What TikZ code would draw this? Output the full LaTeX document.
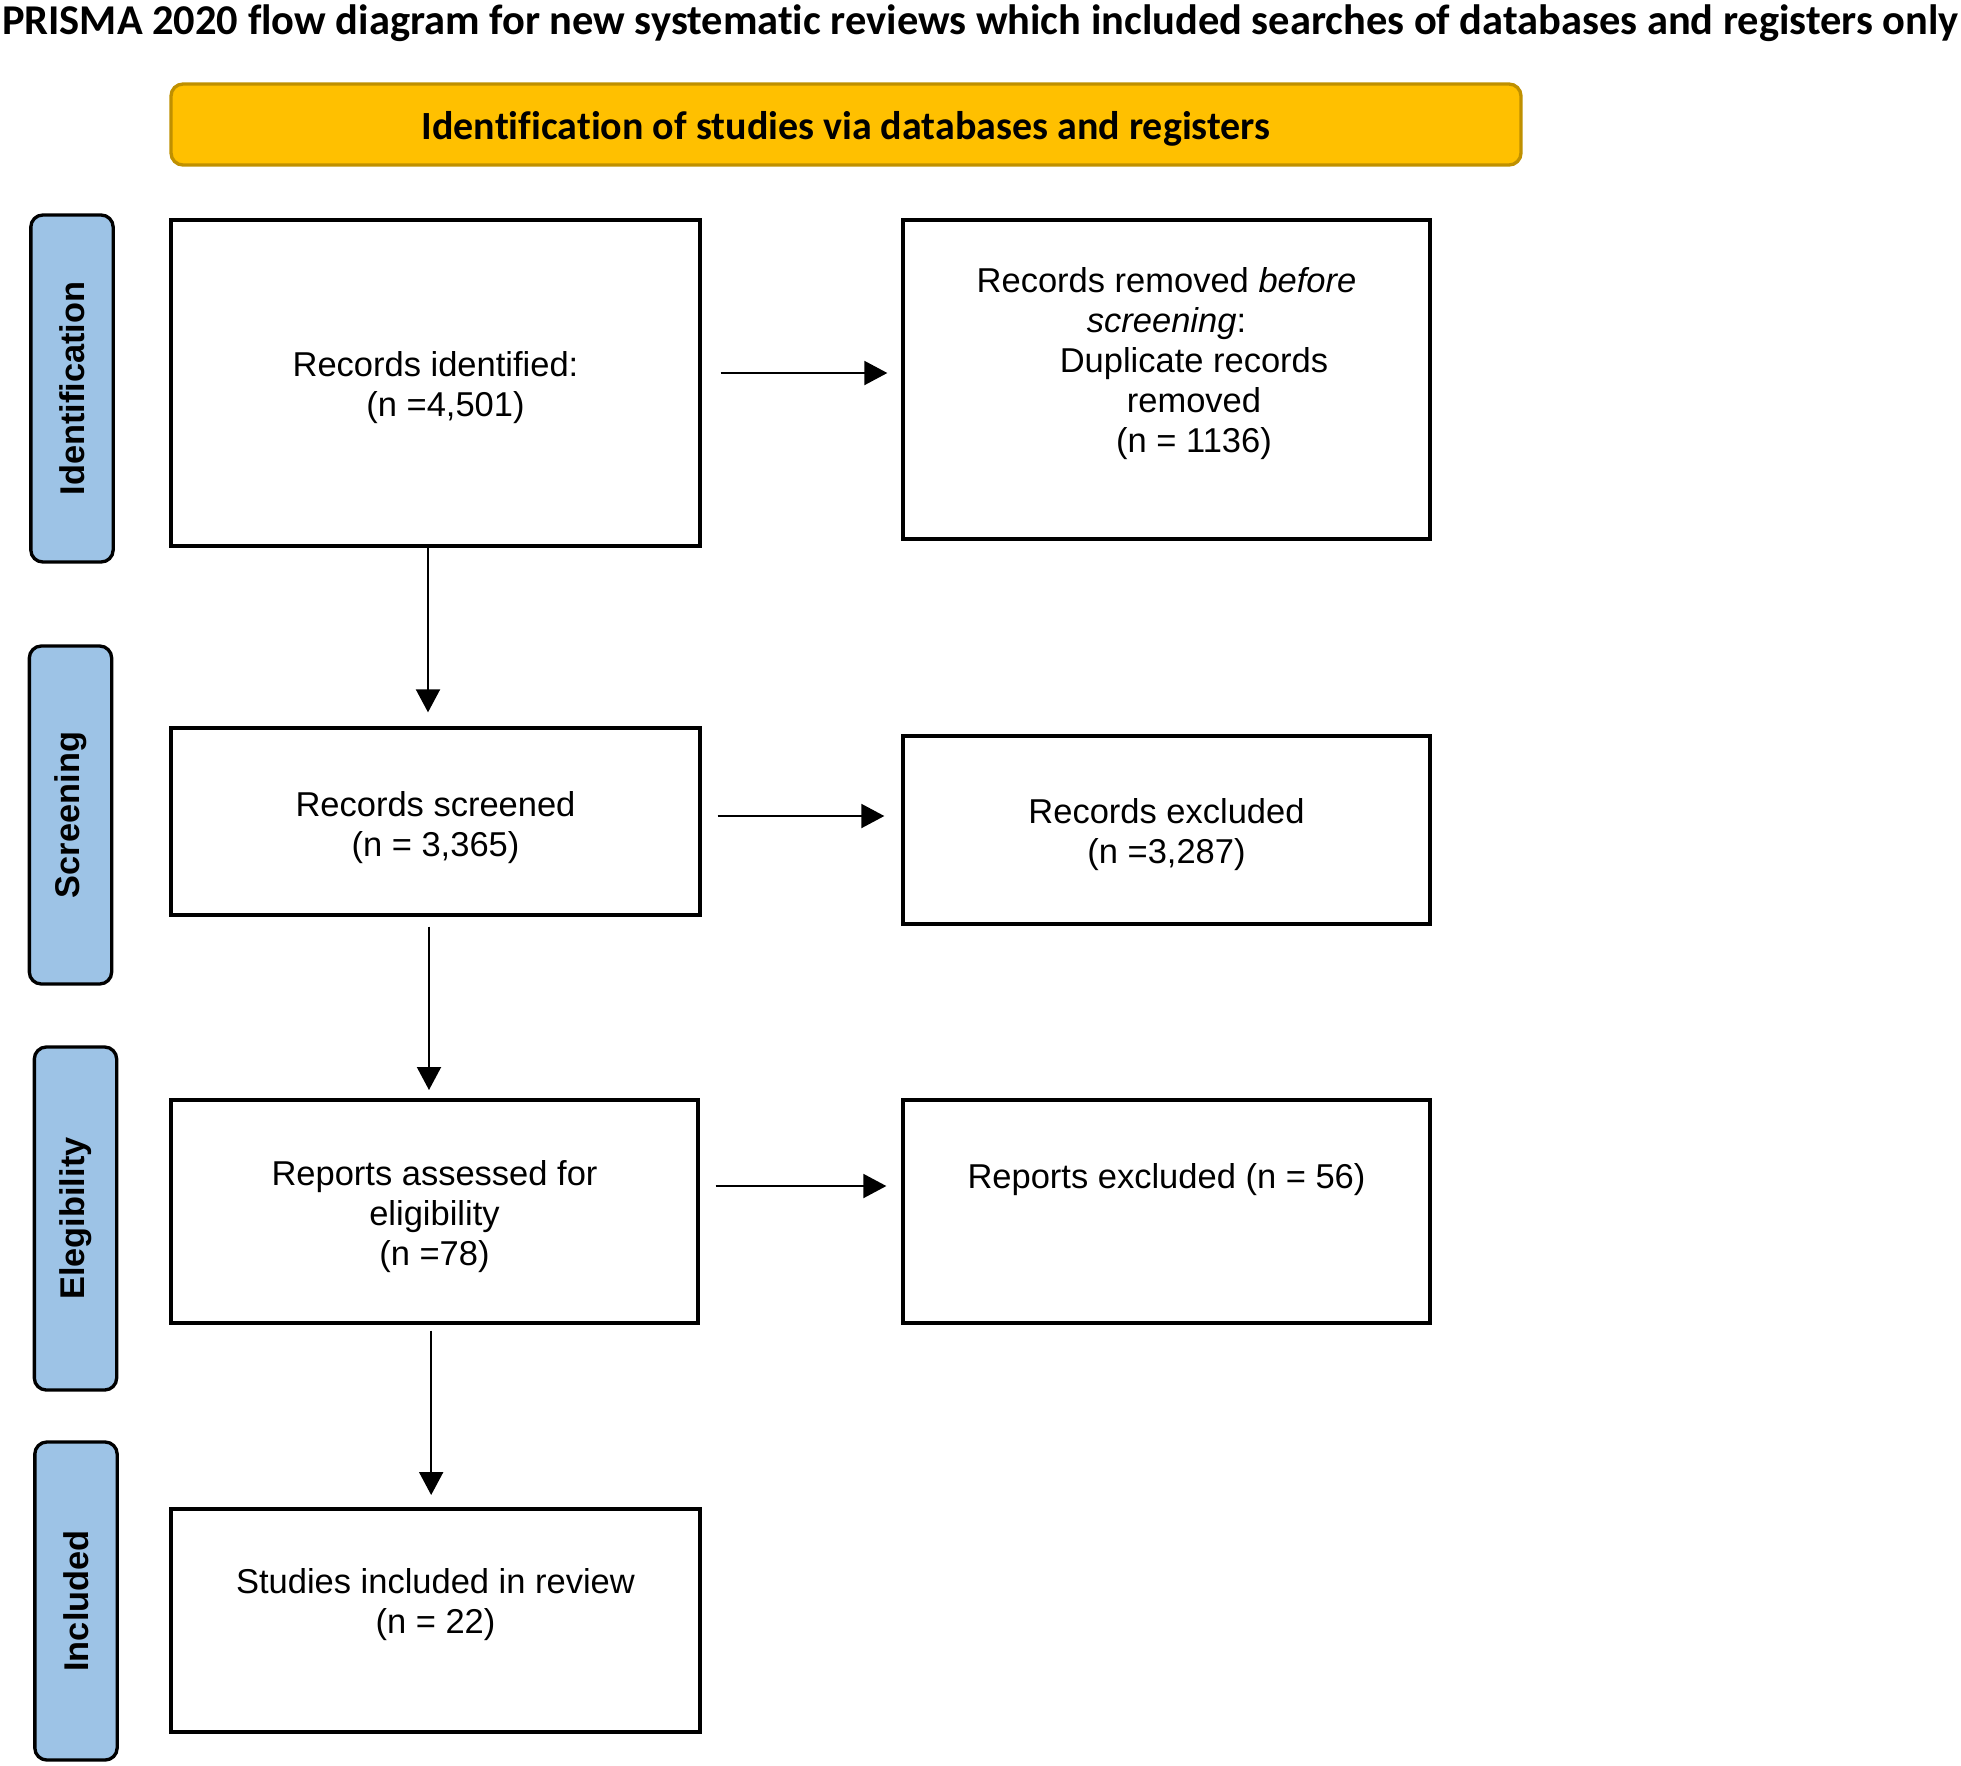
\documentclass[tikz,border=0pt]{standalone}
\usepackage{graphicx}
\usepackage{fontspec}
\setmainfont{Liberation Sans}
\newfontfamily\calibri[Ligatures=NoCommon]{Carlito}
\usetikzlibrary{arrows.meta}

\definecolor{headfill}{HTML}{FFC000}
\definecolor{headline}{HTML}{BF9000}
\definecolor{phasefill}{HTML}{9DC3E6}

\tikzset{
    box/.style={draw, line width=1pt, inner sep=0pt},
    txt/.style={align=center, inner sep=0pt, font=\fontsize{10.35}{12}\selectfont},
    phase/.style={draw, line width=1pt, fill=phasefill, rounded corners=3.6pt,
        rotate=90, inner sep=0pt, minimum height=24.7pt,
        font=\fontsize{10.3}{12}\selectfont\bfseries},
    arr/.style={-{Triangle[length=6.9pt,width=7.2pt]}, line width=0.6pt},
}

\begin{document}
\begin{tikzpicture}[x=0.3pt, y=-0.3pt]

        \useasboundingbox (0, 0) rectangle (1961, 1765);

        \node[anchor=base] (title) at (980.5, 34)
            {\resizebox{587pt}{!}{\calibri\bfseries PRISMA 2020 flow diagram for new systematic reviews which included searches of databases and registers only}};

        \node[draw=headline, line width=1pt, fill=headfill, rounded corners=3.6pt,
              minimum width=405pt, minimum height=24.3pt] (head) at (846, 124.5) {};
        \node[font=\fontsize{12}{14}\selectfont\calibri\bfseries, inner sep=0pt] (headt)
            at ([yshift=-1.2pt]head.center) {Identification of studies via databases and registers};

        % phases down the left side
        \foreach \name/\x/\y/\len/\lab in {ident/72/388.5/104.1/Identification, screen/70.5/815/101.4/Screening,
                                           elig/75.5/1218.5/102.9/Elegibility, incl/76/1601/95.4/Included} {
            \node[phase, minimum width=\len pt] (\name) at (\x, \y) {\lab};
        }

        % boxes
        \node[box, minimum width=158.7pt, minimum height=97.8pt] (A) at (435.5, 383) {};
        \node[txt] (At) at ([yshift=-1.5pt]A.center) {Records identified:\\\hspace*{6pt}(n =4,501)};

        \node[box, minimum width=158.1pt, minimum height=95.7pt] (B) at (1166.5, 379.5) {};
        \node[txt] (Bt) at ([yshift=4.75pt]B.center)
            {Records removed \textit{before}\\\textit{screening}:\\
             \hspace*{16.5pt}Duplicate records\\\hspace*{16.5pt}removed\\\hspace*{16.5pt}(n = 1136)};

        \node[box, minimum width=158.7pt, minimum height=56.1pt] (C) at (435.5, 821.5) {};
        \node[txt] (Ct) at ([yshift=-1.9pt]C.center) {Records screened\\(n = 3,365)};

        \node[box, minimum width=158.1pt, minimum height=56.4pt] (D) at (1166.5, 830) {};
        \node[txt] (Dt) at ([yshift=-1.5pt]D.center) {Records excluded\\(n =3,287)};

        \node[box, minimum width=158.1pt, minimum height=66.9pt] (E) at (434.5, 1211.5) {};
        \node[txt] (Et) at ([yshift=-1.5pt]E.center) {Reports assessed for\\eligibility\\(n =78)};

        \node[box, minimum width=158.1pt, minimum height=66.9pt] (F) at (1166.5, 1211.5) {};
        \node[txt] (Ft) at ([yshift=9.5pt]F.center) {Reports excluded (n = 56)};

        \node[box, minimum width=158.7pt, minimum height=66.9pt] (G) at (435.5, 1620.5) {};
        \node[txt] (Gt) at ([yshift=4.9pt]G.center) {Studies included in review\\(n = 22)};

        % arrows
        \draw[arr, shorten >=4.2pt] ([xshift=-2.25pt]A.south) -- ([xshift=-2.25pt]A.south |- C.north);
        \draw[arr, shorten <=3pt, shorten >=2.5pt] ([xshift=-1.95pt]C.south) -- ([xshift=-1.95pt]C.south |- E.north);
        \draw[arr, shorten <=1.8pt, shorten >=3.7pt] ([xshift=-1pt]E.south) -- ([xshift=-1pt]E.south |- G.north);

        \draw[arr, shorten <=5.7pt, shorten >=4.2pt] ([yshift=3pt]A.east) -- ([yshift=3pt]A.east -| B.west);
        \draw[arr, shorten <=4.8pt, shorten >=5.1pt] ([yshift=1.65pt]C.east) -- ([yshift=1.65pt]C.east -| D.west);
        \draw[arr, shorten <=4.8pt, shorten >=4.5pt] ([yshift=7.65pt]E.east) -- ([yshift=7.65pt]E.east -| F.west);
    \end{tikzpicture}
\end{document}
